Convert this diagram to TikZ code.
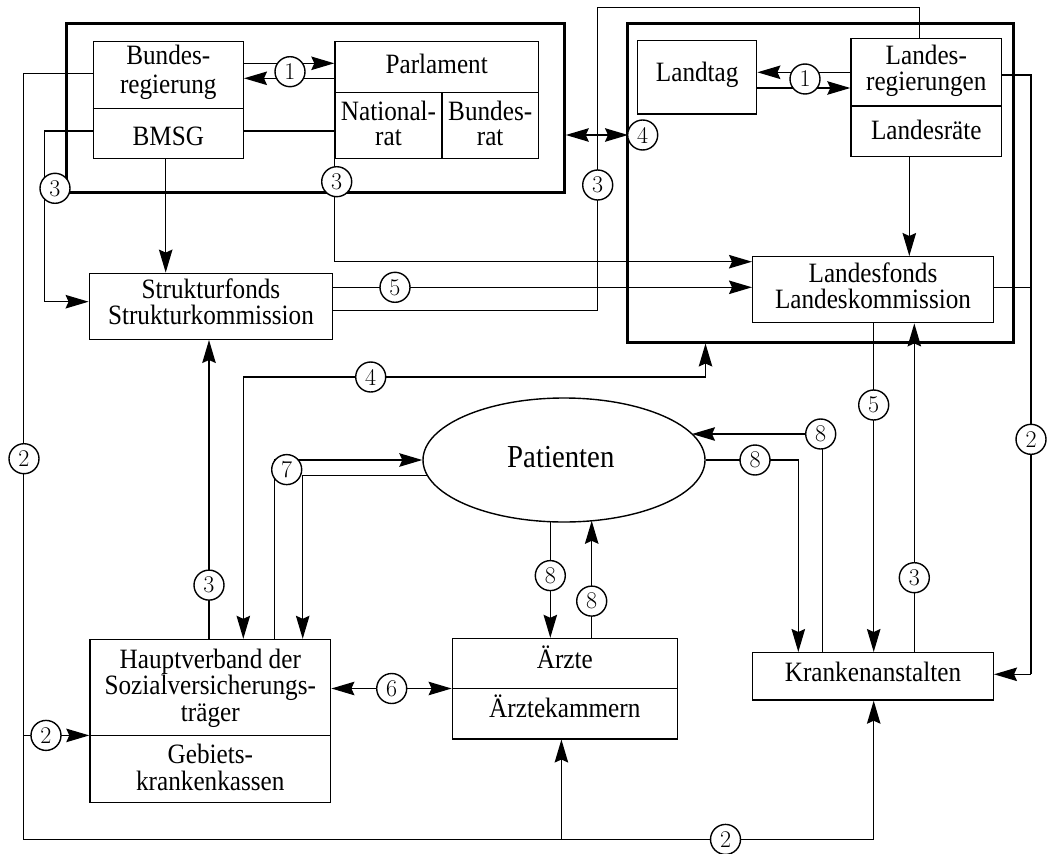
\documentclass[tikz,border=0pt]{standalone}
\usepackage{fontspec}
\newfontfamily\txtf{Liberation Serif}[FakeStretch=0.9]
\usetikzlibrary{arrows.meta,shapes.geometric,calc}
\tikzset{
  ln/.style={line width=1.4pt},
  thick frame/.style={line width=3pt},
  tip/.tip={Stealth[length=23pt,width=13.5pt,inset=3pt]},
  arr/.style={ln,-tip},
  darr/.style={ln,tip-tip},
  boxshape/.style={draw,ln,rectangle,inner sep=0pt},
  lbl/.style={inner sep=0pt,anchor=base,font=\txtf\fontsize{28}{28}\selectfont},
  num/.style={draw,ln,circle,fill=white,minimum size=30pt,inner sep=0pt,font=\fontsize{24}{24}\selectfont},
}
\begin{document}
\begin{tikzpicture}[x=1pt,y=-1pt]
\useasboundingbox (0,0) rectangle (1048,853);
% frames
\node[boxshape,thick frame,minimum width=497.6pt,minimum height=169.4pt] (fed) at (315.5,108) {};
\node[boxshape,thick frame,minimum width=386pt,minimum height=318.7pt] (land) at (820.3,182.65) {};
% Bundesregierung / BMSG
\node[boxshape,minimum width=150pt,minimum height=117pt] (breg) at (168.3,100.2) {};
\draw[ln] (breg.west |- 0,108.7) -- (breg.east |- 0,108.7);
\node[lbl] (bregt1) at (168.3,65) {Bundes-};
\node[lbl] (bregt2) at (168.3,93.3) {regierung};
\node[lbl] (bmsg) at (168.3,145.7) {BMSG};
% Parlament
\node[boxshape,minimum width=203.3pt,minimum height=117pt] (parl) at (436.65,100.2) {};
\draw[ln] (parl.west |- 0,92.7) -- (parl.east |- 0,92.7) (442,92.7) -- (parl.south -| 442,0);
\node[lbl] (parlt) at (436.7,73.3) {Parlament};
\node[lbl] (nr1) at (388.5,121) {National-};
\node[lbl] (nr2) at (388.5,145.7) {rat};
\node[lbl] (br1) at (490.2,121) {Bundes-};
\node[lbl] (br2) at (490.2,145.7) {rat};
% Landtag
\node[boxshape,minimum width=119pt,minimum height=73.7pt] (ltag) at (697.2,77.15) {};
\node[lbl] (ltagt) at (697.2,81.7) {Landtag};
% Landesregierungen
\node[boxshape,minimum width=150.7pt,minimum height=118pt] (lreg) at (926.35,97.3) {};
\draw[ln] (lreg.west |- 0,106) -- (lreg.east |- 0,106);
\node[lbl] (lregt1) at (926.3,65) {Landes-};
\node[lbl] (lregt2) at (926.3,90.7) {regierungen};
\node[lbl] (lrat) at (926.3,140) {Landesräte};
% Landesfonds
\node[boxshape,minimum width=240.6pt,minimum height=66pt] (lfonds) at (873,289.7) {};
\node[lbl] (lfondst1) at (873,282.7) {Landesfonds};
\node[lbl] (lfondst2) at (873,308.3) {Landeskommission};
% Strukturfonds
\node[boxshape,minimum width=243.4pt,minimum height=66pt] (sfonds) at (211,306.3) {};
\node[lbl] (sfondst1) at (211,298.3) {Strukturfonds};
\node[lbl] (sfondst2) at (211,324) {Strukturkommission};
% Krankenanstalten
\node[boxshape,minimum width=240.6pt,minimum height=47.3pt] (kranken) at (873,676.35) {};
\node[lbl] (krankent) at (873,681.7) {Krankenanstalten};
% Patienten
\node[draw,ln,ellipse,minimum width=282pt,minimum height=124pt,inner sep=0pt] (pat) at (564,460) {};
\node[lbl,font=\txtf\fontsize{32}{32}\selectfont] (patt) at (560.8,467.3) {Patienten};
% Aerzte
\node[boxshape,minimum width=224.9pt,minimum height=100.3pt] (aerzte) at (564.75,688.65) {};
\draw[ln] (aerzte.west |- 0,688.5) -- (aerzte.east |- 0,688.5);
\node[lbl] (aerztet) at (564.8,668.4) {Ärzte};
\node[lbl] (kammer) at (564.8,717.7) {Ärztekammern};
% Hauptverband
\node[boxshape,minimum width=240.7pt,minimum height=163.2pt] (hv) at (210.35,721.1) {};
\draw[ln] (hv.west |- 0,735.4) -- (hv.east |- 0,735.4);
\node[lbl] (hvt1) at (210.3,668.4) {Hauptverband der};
\node[lbl] (hvt2) at (210.3,694.9) {Sozialversicherungs-};
\node[lbl] (hvt3) at (210.3,721.1) {träger};
\node[lbl] (gkk1) at (210.3,763.6) {Gebiets-};
\node[lbl] (gkk2) at (210.3,790.8) {krankenkassen};
% helper coordinates
\coordinate (lc) at (23.3,839.4);
\coordinate (rc) at (1031,674.3);
% 1 (federal)
\draw[arr] (breg.east |- 0,63.3) -- (parl.west |- 0,63.3);
\draw[arr] (parl.west |- 0,78.3) -- (breg.east |- 0,78.3);
\draw[ln] (breg.east |- 0,131) -- (parl.west |- 0,131);
% 1 (Land)
\draw[arr] (lreg.west |- 0,72.3) -- (ltag.east |- 0,72.3);
\draw[arr] (ltag.east |- 0,88) -- (lreg.west |- 0,88);
% 2 big loop
\draw[ln] (breg.west |- 0,73.3) -| (lc) -- (lc -| 873.7,0);
\draw[arr] (lc -| 873.7,0) -- (kranken.south -| 873.7,0);
\draw[arr] (lc -| 561.4,0) -- (aerzte.south -| 561.4,0);
\draw[arr] (lc |- 0,735.4) -- (hv.west |- 0,735.4);
% 3 BMSG -> Strukturfonds
\draw[arr] (breg.west |- 0,131) -- (44.3,131) |- (sfonds.west |- 0,301.7);
% BMSG down
\draw[arr] (breg.south -| 165.7,0) -- (sfonds.north -| 165.7,0);
% 3 Parlament -> Landesfonds
\draw[arr] (parl.south west) |- (lfonds.west |- 0,261.7);
% 5 Strukturfonds -> Landesfonds
\draw[arr] (sfonds.east |- 0,287.3) -- (lfonds.west |- 0,287.3);
% 3 Strukturfonds -> Landesregierungen
\draw[ln] (sfonds.east |- 0,310.7) -| (597.7,7.3) -| (lreg.north -| 919.3,0);
% 4 double
\draw[darr] (fed.east |- 0,135) -- (628,135);
% 2 Landesregierungen -> Krankenanstalten
\draw[ln] (lreg.east |- 0,75) -| (rc);
\draw[arr] (rc) -- (kranken.east |- rc);
\draw[ln] (lfonds.east |- 0,287.3) -- (rc |- 0,287.3);
% Landesregierungen -> Landesfonds
\draw[arr] (lreg.south -| 909.3,0) -- (lfonds.north -| 909.3,0);
% 5 Landesfonds -> Krankenanstalten
\draw[arr] (lfonds.south -| 873.7,0) -- (kranken.north -| 873.7,0);
% 3 Krankenanstalten -> Landesfonds
\draw[arr] (kranken.north -| 914.3,0) -- (lfonds.south -| 914.3,0);
% 8 Krankenanstalten -> Patienten
\draw[arr] (kranken.north -| 822.7,0) |- (692,434);
% 8 Patienten -> Krankenanstalten
\draw[arr] (pat.east) -| (kranken.north -| 798.3,0);
% 8 Patienten <-> Aerzte
\draw[arr] (550.3,521.7) -- (aerzte.north -| 550.3,0);
\draw[arr] (aerzte.north -| 591.7,0) -- (591.7,520.8);
% 6
\draw[darr] (hv.east |- 0,688.5) -- (aerzte.west |- 0,688.5);
% 3 Hauptverband -> Strukturfonds
\draw[arr] (hv.north -| 209,0) -- (sfonds.south -| 209,0);
% 4 Hauptverband <-> Land
\draw[arr] (705.5,377) -- (land.south -| 705.5,0);
\draw[arr] (705.5,377) -| (hv.north -| 243.3,0);
% 7
\draw[arr] (hv.north -| 274.3,0) |- (pat.west);
\draw[arr] (427.6,475.7) -| (hv.north -| 302.7,0);
% circled numbers
\node[num] (n1a) at (290,71.7) {1};
\node[num] (n1b) at (805,79) {1};
\node[num] (n2a) at (24,458.7) {2};
\node[num] (n2b) at (725.5,839.4) {2};
\node[num] (n2c) at (46,735.4) {2};
\node[num] (n2d) at (1031,439.3) {2};
\node[num] (n3a) at (55,188.3) {3};
\node[num] (n3b) at (336.7,181.7) {3};
\node[num] (n3c) at (597.7,185) {3};
\node[num] (n3d) at (914.3,577.7) {3};
\node[num] (n3e) at (209,585.1) {3};
\node[num] (n4a) at (642.7,135) {4};
\node[num] (n4b) at (370.7,377) {4};
\node[num] (n5a) at (395,287.3) {5};
\node[num] (n5b) at (873.7,405) {5};
\node[num] (n6) at (391.7,688.5) {6};
\node[num] (n7) at (286.7,469.6) {7};
\node[num] (n8a) at (820.7,434) {8};
\node[num] (n8b) at (755,460) {8};
\node[num] (n8c) at (550.3,575.6) {8};
\node[num] (n8d) at (591.7,601.1) {8};
\end{tikzpicture}
\end{document}
